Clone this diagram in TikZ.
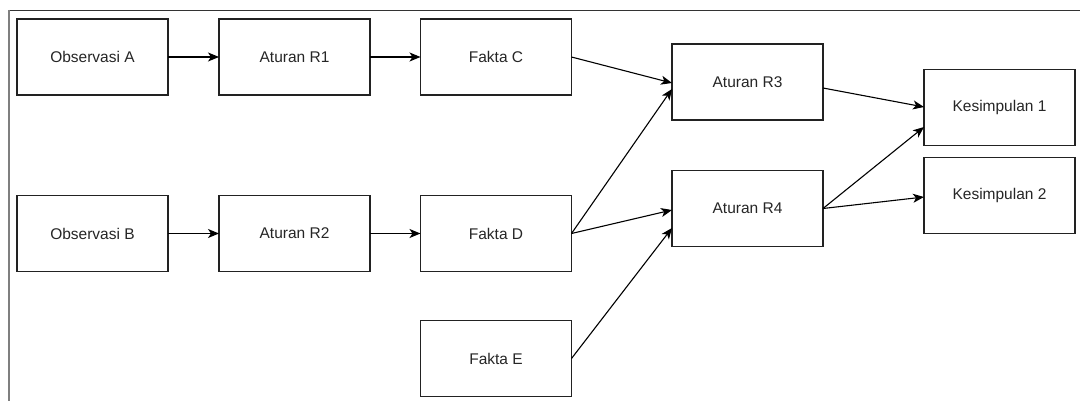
\documentclass[tikz,border=0pt]{standalone}
\usepackage{fontspec}
\setmainfont{Liberation Sans}
\usepackage{tikz}
\usetikzlibrary{arrows.meta}

\begin{document}
\begin{tikzpicture}[x=1pt,y=-1pt]
            \definecolor{boxLine}{HTML}{222222}
            \definecolor{frameCol}{HTML}{7F7F7F}
            \tikzset{
                stepbox/.style={draw=boxLine,line width=1.3pt,fill=white,minimum width=151pt,minimum height=76pt,inner sep=0pt,outer sep=0pt,font=\fontsize{15.5}{17}\selectfont,text=black!85},
                flow/.style={line width=1.1pt,-{Stealth[length=11pt,width=9pt,inset=3pt]}}
            }
            \useasboundingbox (0,0) rectangle (1080,401);

            % frame
            \draw[black!80,line width=0.9pt] (8,10) -- (1080,10);
            \draw[frameCol,line width=2pt] (9,10) -- (9,401);

            % nodes
            \node[stepbox] (obsA) at (92.5,57) {Observasi A};
            \node[stepbox] (ruleA) at (294.5,57) {Aturan R1};
            \node[stepbox] (factC) at (496,57) {Fakta C};
            \node[stepbox] (obsB) at (92.5,233.5) {Observasi B};
            \node[stepbox] (ruleB) at (294.5,233.5) {Aturan R2};
            \node[stepbox] (factD) at (496,233.5) {Fakta D};
            \node[stepbox] (factE) at (496,358.5) {Fakta E};
            \node[stepbox] (ruleC) at (747.5,82) {Aturan R3};
            \node[stepbox] (ruleD) at (747.5,208.5) {Aturan R4};
            \node[stepbox] (conclA) at (999.5,107.5) {Kesimpulan 1};
            \node[stepbox] (conclB) at (999.5,195.5) {Kesimpulan 2};

            % edges
            \draw[flow] (obsA) -- (ruleA);
            \draw[flow] (ruleA) -- (factC);
            \draw[flow] (obsB) -- (ruleB);
            \draw[flow] (ruleB) -- (factD);
            \draw[flow] (factC.east) -- ([yshift=-1pt]ruleC.west);
            \draw[flow] (factD.east) -- ([yshift=-7pt]ruleC.west);
            \draw[flow] (factD.east) -- ([yshift=-1.5pt]ruleD.west);
            \draw[flow] (factE.east) -- ([yshift=-19.5pt]ruleD.west);
            \draw[flow] ([yshift=-6pt]ruleC.east) -- ([yshift=0.5pt]conclA.west);
            \draw[flow] (ruleD.east) -- ([yshift=-19.5pt]conclA.west);
            \draw[flow] (ruleD.east) -- ([yshift=-1.5pt]conclB.west);
        \end{tikzpicture}
\end{document}
